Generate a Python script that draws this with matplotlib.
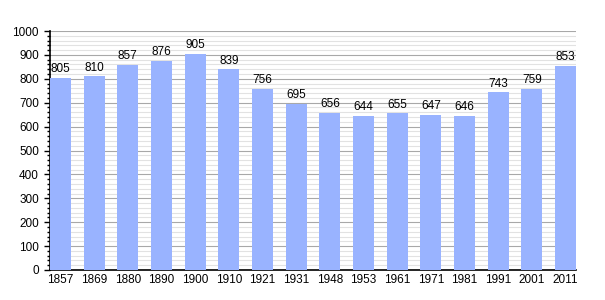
import matplotlib
matplotlib.use("Agg")
import matplotlib.pyplot as plt
from matplotlib.ticker import MultipleLocator

years = ["1857", "1869", "1880", "1890", "1900", "1910", "1921", "1931", "1948",
         "1953", "1961", "1971", "1981", "1991", "2001", "2011"]
population = [805, 810, 857, 876, 905, 839, 756, 695, 656, 644, 655, 647, 646, 743, 759, 853]

plt.rcParams['font.family'] = ['Liberation Sans', 'DejaVu Sans']

fig = plt.figure(figsize=(6.05, 3.0), dpi=100)
ax = fig.add_axes([50/605, 0.1, (576-50)/605, (270-31)/300])

x = list(range(len(years)))
w = 0.62
ax.bar(x, population, width=w, color="#99b3ff", zorder=3)
for xi, v in zip(x, population):
    ax.text(xi, v + 12, str(v), ha="center", va="bottom", fontsize=8.5, color="#000000", zorder=4)

ax.set_xlim(-w/2, len(years) - 1 + w/2)
ax.set_ylim(0, 1000)
ax.set_xticks(x)
ax.set_xticklabels(years, fontsize=8.5)
ax.tick_params(axis="x", length=0, pad=3)
ax.yaxis.set_major_locator(MultipleLocator(100))
ax.yaxis.set_minor_locator(MultipleLocator(20))
ax.tick_params(axis="y", which="major", length=4, width=1, labelsize=8.5, pad=4)
ax.tick_params(axis="y", which="minor", length=2, width=1)
ax.grid(axis="y", which="major", color="#a8a8a8", linewidth=0.8, zorder=1)
ax.grid(axis="y", which="minor", color="#e2e2e2", linewidth=0.8, zorder=0)
for s in ["top", "right"]:
    ax.spines[s].set_visible(False)
ax.spines["left"].set_linewidth(1.2)
ax.spines["bottom"].set_linewidth(1.2)

fig.savefig("out.png", dpi=100)
